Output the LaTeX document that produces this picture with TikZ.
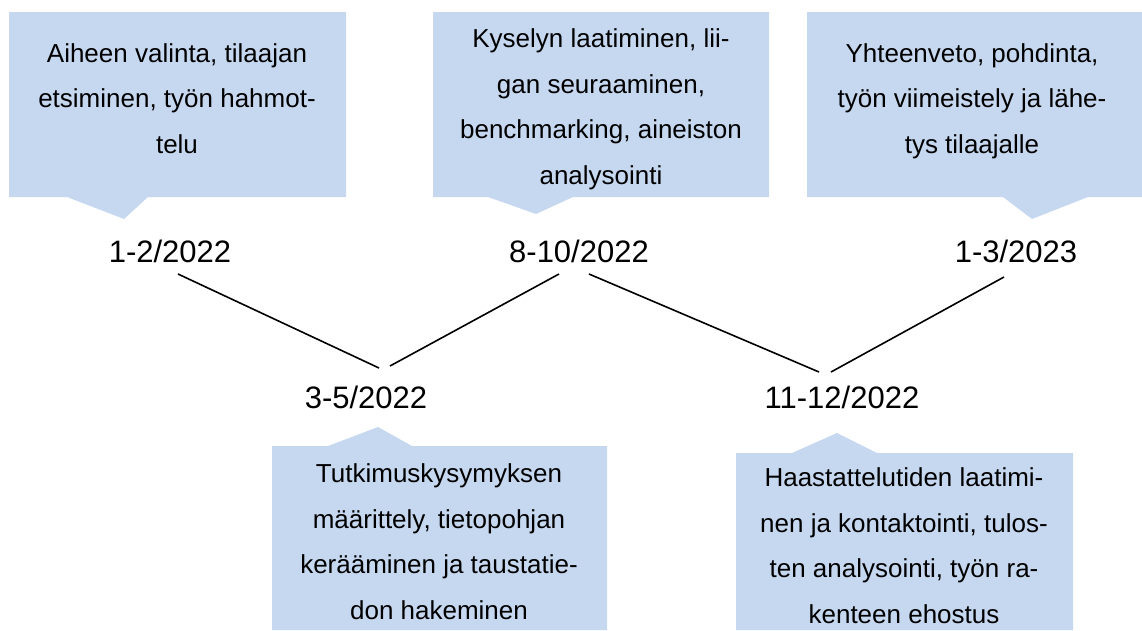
\documentclass[tikz,border=0pt]{standalone}
\usepackage{fontspec}
\setmainfont{Liberation Sans}
\usetikzlibrary{calc}
\definecolor{calloutfill}{HTML}{C6D8F0}
\begin{document}
\begin{tikzpicture}[x=1pt,y=-1pt,
  bubble/.style={fill=calloutfill,draw=none},
  bubbletext/.style={anchor=base,align=center,inner sep=0pt,font=\fontsize{26}{45.5}\selectfont},
  datelabel/.style={anchor=base,inner sep=0pt,font=\fontsize{31}{37}\selectfont},
  link/.style={line width=1.6pt,draw=black}]
\useasboundingbox (0,0) rectangle (1142,630);
% callout shapes
\fill[bubble] (9,12) -- (346,12) -- (346,197) -- (148,197) -- (124,219) -- (67,197) -- (9,197) -- cycle;
\fill[bubble] (433,12) -- (769,12) -- (769,197) -- (573,197) -- (536,214) -- (488,197) -- (433,197) -- cycle;
\fill[bubble] (807,12) -- (1142,12) -- (1142,197) -- (1088,197) -- (1032,219) -- (1003,197) -- (807,197) -- cycle;
\fill[bubble] (272,446) -- (328,446) -- (378,427) -- (412,446) -- (607,446) -- (607,630) -- (272,630) -- cycle;
\fill[bubble] (736,453) -- (792,453) -- (837,433) -- (877,453) -- (1073,453) -- (1073,630) -- (736,630) -- cycle;
% callout texts (anchored at the baseline of the last line)
\node[bubbletext] (c1) at (177,153) {Aiheen valinta, tilaajan\\etsiminen, työn hahmot-\\telu};
\node[bubbletext] (c2) at (601,184) {Kyselyn laatiminen, lii-\\gan seuraaminen,\\benchmarking, aineiston\\analysointi};
\node[bubbletext] (c3) at (972,153) {Yhteenveto, pohdinta,\\työn viimeistely ja lähe-\\tys tilaajalle};
\node[bubbletext] (c4) at (439,619) {Tutkimuskysymyksen\\määrittely, tietopohjan\\kerääminen ja taustatie-\\don hakeminen};
\node[bubbletext] (c5) at (904,623) {Haastattelutiden laatimi-\\nen ja kontaktointi, tulos-\\ten analysointi, työn ra-\\kenteen ehostus};
% dates
\node[datelabel] (d1) at (170,262) {1-2/2022};
\node[datelabel] (d2) at (579,262) {8-10/2022};
\node[datelabel] (d3) at (1016,262) {1-3/2023};
\node[datelabel] (d4) at (366,408) {3-5/2022};
\node[datelabel] (d5) at (842,408) {11-12/2022};
% connectors
\draw[link] ($(d1.base)+(8,12)$) -- ($(d4.base)+(13,-40)$);
\draw[link] ($(d4.base)+(24,-42)$) -- ($(d2.base)+(-20,12)$);
\draw[link] ($(d2.base)+(10,12)$) -- ($(d5.base)+(-23,-36)$);
\draw[link] ($(d5.base)+(-11,-36)$) -- ($(d3.base)+(-12,15)$);
\end{tikzpicture}
\end{document}
